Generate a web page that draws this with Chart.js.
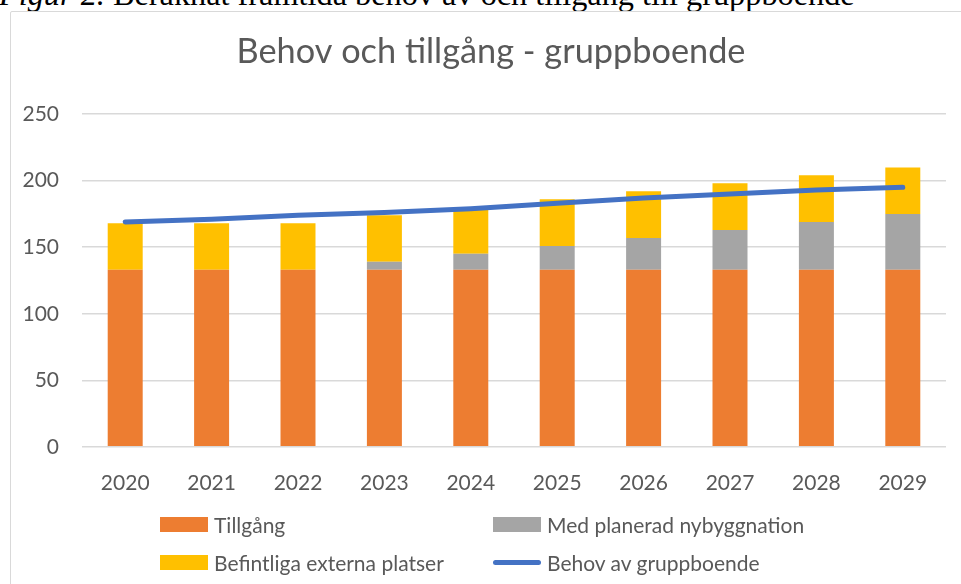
<!DOCTYPE html>
<html>
<head>
<meta charset="utf-8">
<script src="https://cdn.jsdelivr.net/npm/chart.js@4.4.1/dist/chart.umd.min.js"></script>
<style>
  html, body { margin: 0; padding: 0; background: #fff; overflow: hidden; }
  body { width: 961px; height: 584px; position: relative; }
  #caption { position: absolute; left: -1px; top: -25px; font-family: "Liberation Serif", "DejaVu Serif", serif; font-size: 32.3px; color: #000; white-space: nowrap; line-height: 38px; }
  #frame { position: absolute; left: 10px; top: 11px; width: 1000px; height: 700px; border: 1.5px solid #d9d9d9; border-radius: 2px; box-sizing: border-box; }
  #wrap { position: absolute; left: 0; top: 0; width: 961px; height: 584px; }
  .lg { position: absolute; font-family: Lato, sans-serif; font-size: 21px; color: #595959; white-space: nowrap; display: flex; align-items: center; }
  .sw { display: inline-block; width: 48px; height: 15px; margin-right: 6px; }
  .ln { display: inline-block; width: 48px; height: 5px; border-radius: 3px; margin-right: 6px; }
</style>
</head>
<body>
<div id="caption"><i>Figur 2.</i> Beräknat framtida behov av och tillgång till gruppboende</div>
<div id="frame"></div>
<div id="wrap"><canvas id="c" width="961" height="584"></canvas></div>
<div id="legend"></div>
<script>
const categories = ["2020","2021","2022","2023","2024","2025","2026","2027","2028","2029"];
const tillgang   = [133,133,133,133,133,133,133,133,133,133];
const planerad   = [0,0,0,6,12,18,24,30,36,42];
const externa    = [35,35,35,35,35,35,35,35,35,35];
const behov      = [169,171,174,176,179,183,187,190,193,195];
const seriesNames = ["Tillgång","Med planerad nybyggnation","Befintliga externa platser","Behov av gruppboende"];
const seriesColors = ["#ED7D31","#A5A5A5","#FFC000","#4472C4"];
const titleText = "Behov och tillgång - gruppboende";

const textColor = "#595959";
const bp = 0.5, cp = 0.81;

// shift the title box so it is centred on the outer frame like the reference
const titleShift = {
  id: "titleShift",
  afterLayout(chart) {
    if (chart.titleBlock) chart.titleBlock.left += 26;
  }
};

const chart = new Chart(document.getElementById("c"), {
  type: "bar",
  data: {
    labels: categories,
    datasets: [
      { type: "line", label: seriesNames[3], data: behov, borderColor: seriesColors[3], backgroundColor: seriesColors[3],
        borderWidth: 5, pointRadius: 0, borderCapStyle: "round", borderJoinStyle: "round", tension: 0, stack: "behov", order: 0 },
      { label: seriesNames[0], data: tillgang, backgroundColor: seriesColors[0], stack: "s", order: 1, barPercentage: bp, categoryPercentage: cp },
      { label: seriesNames[1], data: planerad, backgroundColor: seriesColors[1], stack: "s", order: 1, barPercentage: bp, categoryPercentage: cp },
      { label: seriesNames[2], data: externa, backgroundColor: seriesColors[2], stack: "s", order: 1, barPercentage: bp, categoryPercentage: cp }
    ]
  },
  plugins: [titleShift],
  options: {
    responsive: false,
    animation: false,
    layout: { padding: { left: 10, right: 15, top: 0, bottom: 64 } },
    plugins: {
      legend: { display: false },
      tooltip: { enabled: false },
      title: { display: true, text: titleText, color: textColor,
               font: { family: "Lato", size: 34.3, weight: "normal" }, padding: { top: 31, bottom: 42 } }
    },
    scales: {
      x: {
        stacked: true,
        grid: { display: false, drawTicks: false },
        border: { display: false },
        ticks: { color: textColor, font: { family: "Lato", size: 21 }, padding: 24 }
      },
      y: {
        stacked: true,
        min: 0, max: 250,
        afterFit: (s) => { s.width = 72; },
        grid: { color: "#d9d9d9", lineWidth: 1.5, drawTicks: false },
        border: { display: false },
        ticks: { stepSize: 50, color: textColor, font: { family: "Lato", size: 21 }, padding: 23 }
      }
    }
  }
});

// legend (2 x 2 grid like the reference)
const legendOrder = [0, 1, 2, 3];
const colX = [160, 493];
const rowY = [524, 562];
const lg = document.getElementById("legend");
legendOrder.forEach((si, i) => {
  const d = document.createElement("div");
  d.className = "lg";
  d.style.left = colX[i % 2] + "px";
  d.style.top = (rowY[Math.floor(i / 2)] - 13) + "px";
  d.style.height = "26px";
  const m = document.createElement("span");
  m.className = si === 3 ? "ln" : "sw";
  m.style.background = seriesColors[si];
  d.appendChild(m);
  d.appendChild(document.createTextNode(seriesNames[si]));
  lg.appendChild(d);
});
</script>
</body>
</html>
